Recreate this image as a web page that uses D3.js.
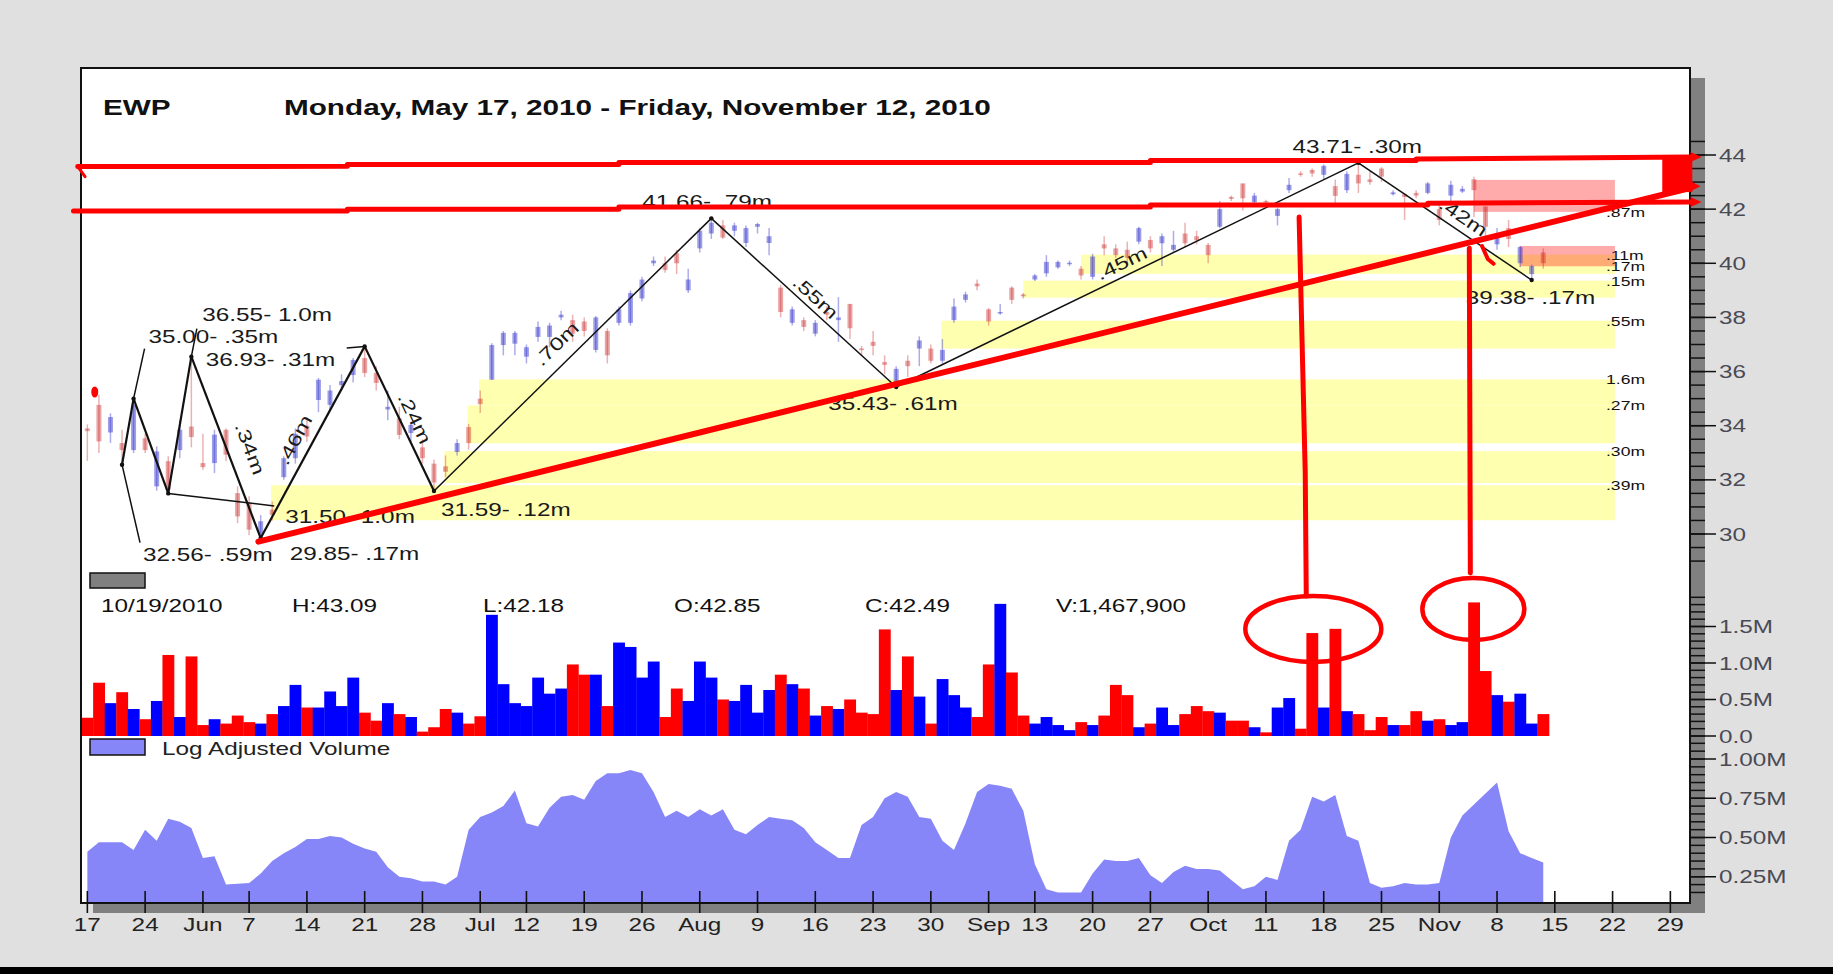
<!DOCTYPE html>
<html><head><meta charset="utf-8">
<script src="https://cdn.jsdelivr.net/npm/d3@7"></script>
<style>html,body{margin:0;padding:0;background:#e0e0e0;}svg{display:block;}</style>
</head><body><svg id="c" width="1833" height="974"></svg>
<script>
// ---------------- DATA ----------------
const symbol = "EWP";
const titleText = "Monday, May 17, 2010 - Friday, November 12, 2010";
const firstDay = "2010-05-17", lastAxisDay = "2010-11-29";
const holidays = ["2010-05-31","2010-07-05","2010-09-06"];
const tickDates = ["2010-05-17","2010-05-24","2010-06-01","2010-06-07","2010-06-14","2010-06-21","2010-06-28","2010-07-06","2010-07-12","2010-07-19","2010-07-26","2010-08-02","2010-08-09","2010-08-16","2010-08-23","2010-08-30","2010-09-07","2010-09-13","2010-09-20","2010-09-27","2010-10-04","2010-10-11","2010-10-18","2010-10-25","2010-11-01","2010-11-08","2010-11-15","2010-11-22","2010-11-29"];
const tickLabels = ["17","24","Jun","7","14","21","28","Jul","12","19","26","Aug","9","16","23","30","Sep","13","20","27","Oct","11","18","25","Nov","8","15","22","29"];

const open = [33.9,34.77,33.75,33.36,33.1,33.54,31.76,32.69,33.1,33.97,
32.62,32.62,33.85,31.51,31.14,29.98,30.9,32.1,32.8,34.0,
34.95,34.77,35.5,35.87,36.5,35.95,34.6,34.28,33.73,33.2,
32.6,32.5,33.03,33.95,35.0,35.7,36.98,37.03,36.55,37.28,
37.28,38.0,37.9,37.85,36.8,37.5,37.8,37.8,38.7,40.0,
40.0,40.37,39.0,40.55,41.1,41.4,41.2,40.75,41.35,40.75,
39.1,37.8,37.9,37.4,38.2,37.9,38.5,36.85,37.1,36.35,
35.6,36.4,36.85,36.85,36.4,37.9,38.65,39.25,38.3,38.15,
39.1,38.85,39.4,39.63,39.85,39.98,39.8,39.5,40.7,40.55,
40.5,40.8,40.86,40.74,40.5,41.1,41.0,40.68,41.35,42.45,
42.95,42.26,42.3,41.75,42.7,43.32,43.45,43.27,42.85,42.7,
43.27,43.1,43.5,42.55,42.55,42.6,42.6,42.0,42.5,42.65,
43.1,42.1,40.7,41.3,40.0,39.6,40.4];
const high = [34.05,35.14,34.46,33.85,35.0,33.7,33.24,32.87,34.2,36.55,
33.7,33.85,33.9,31.76,31.39,30.7,31.2,32.87,33.9,34.3,
35.76,35.5,35.9,36.5,36.93,36.2,35.3,34.7,34.1,33.5,
32.75,32.9,33.5,34.07,35.3,37.05,37.5,37.5,37.0,37.85,
37.8,38.25,38.1,38.0,38.05,37.6,38.4,39.0,39.5,40.25,
40.25,40.5,39.8,41.3,41.66,41.6,41.5,41.4,41.5,41.3,
39.2,38.4,38.0,37.9,38.4,38.75,38.5,36.95,37.5,36.6,
36.2,36.6,37.3,37.0,37.2,38.7,38.95,39.4,38.35,38.5,
39.15,38.9,39.6,40.3,40.1,40.1,39.9,40.35,41.0,40.7,
40.8,41.35,41.0,41.1,41.2,41.5,41.2,40.75,42.3,42.5,
42.95,42.6,42.35,42.05,43.15,43.4,43.5,43.65,43.09,43.4,
43.71,43.4,43.55,42.7,42.6,42.7,43.0,42.3,43.05,42.85,
43.2,42.1,41.3,41.6,40.65,39.95,40.55];
const low = [32.7,32.99,33.36,32.56,32.99,32.99,31.6,31.5,32.8,33.2,
32.37,32.25,32.7,30.4,29.95,29.85,30.5,32.0,32.6,33.4,
34.5,34.6,35.3,35.6,35.8,35.3,34.2,33.5,33.4,32.6,
31.59,32.1,32.9,33.12,34.47,35.69,36.6,36.6,36.3,37.1,
36.9,37.9,37.1,37.3,36.7,36.3,37.7,37.7,38.6,39.9,
39.65,39.6,38.9,40.4,40.9,40.9,41.0,40.6,41.1,40.3,
38.0,37.7,37.5,37.3,37.9,37.1,37.2,36.6,36.6,35.9,
35.43,35.8,36.2,36.3,36.3,37.8,38.55,39.0,37.7,38.1,
38.5,38.7,39.35,39.5,39.8,39.9,39.4,39.4,40.3,40.2,
40.0,40.7,40.4,39.9,40.4,40.6,40.7,40.0,41.3,42.3,
41.95,42.2,42.2,41.4,42.6,43.2,43.2,43.1,42.18,42.6,
42.6,42.9,43.0,42.5,41.6,42.4,42.55,41.4,42.3,42.6,
41.7,40.9,40.5,40.6,39.85,39.38,39.8];
const close = [33.8,33.42,34.32,33.1,34.77,33.1,33.05,31.64,33.85,33.58,
32.47,33.67,32.93,30.65,30.16,30.47,30.7,32.8,33.7,33.6,
35.7,35.3,35.65,36.43,35.95,35.58,34.7,33.66,34.03,32.8,
31.9,32.3,33.36,33.36,34.8,36.98,37.43,37.43,36.9,37.65,
37.7,38.1,37.4,37.5,38.0,36.6,38.3,38.9,39.4,40.1,
39.75,40.0,39.4,41.2,41.5,40.95,41.4,41.3,41.45,41.0,
38.2,38.3,37.65,37.8,38.1,38.0,37.6,36.8,36.95,36.25,
36.1,36.2,37.15,36.4,36.8,38.4,38.85,39.15,37.85,38.2,
38.65,38.78,39.55,40.05,40.05,40.02,39.55,40.25,40.55,40.3,
40.2,41.3,40.55,41.0,40.68,40.74,40.85,40.3,42.0,42.38,
42.4,42.5,42.25,42.0,42.9,43.28,43.32,43.6,42.49,43.3,
42.95,43.0,43.2,42.62,42.45,42.5,42.95,41.6,42.9,42.75,
42.7,41.35,41.1,40.9,40.6,39.9,40.0];
// daily volume, millions of shares
const volume = [0.25,0.73,0.45,0.60,0.37,0.23,0.48,1.11,0.26,1.09,
0.15,0.23,0.17,0.28,0.19,0.17,0.30,0.41,0.70,0.39,
0.39,0.61,0.41,0.80,0.32,0.21,0.45,0.30,0.26,0.06,
0.12,0.37,0.32,0.17,0.27,1.66,0.71,0.45,0.41,0.80,
0.58,0.65,0.98,0.84,0.84,0.41,1.28,1.22,0.80,1.02,
0.26,0.65,0.48,1.02,0.80,0.50,0.48,0.70,0.32,0.63,
0.84,0.71,0.65,0.28,0.41,0.37,0.50,0.32,0.30,1.46,
0.63,1.09,0.54,0.17,0.78,0.56,0.39,0.26,0.98,1.81,
0.87,0.28,0.17,0.26,0.15,0.08,0.19,0.15,0.28,0.70,
0.56,0.12,0.17,0.39,0.15,0.30,0.41,0.34,0.32,0.21,
0.21,0.12,0.05,0.39,0.52,0.10,1.41,0.39,1.4679,0.34,
0.30,0.08,0.26,0.15,0.15,0.34,0.21,0.23,0.15,0.19,
1.83,0.89,0.56,0.47,0.58,0.17,0.30];
// log adjusted volume, millions
const logVolume = [0.41,0.47,0.47,0.47,0.42,0.55,0.48,0.62,0.60,0.56,
0.37,0.38,0.20,0.205,0.21,0.27,0.35,0.40,0.44,0.49,
0.49,0.51,0.50,0.46,0.43,0.41,0.31,0.25,0.24,0.22,
0.22,0.20,0.25,0.55,0.63,0.66,0.70,0.80,0.59,0.57,
0.69,0.76,0.77,0.74,0.86,0.91,0.91,0.93,0.91,0.79,
0.63,0.67,0.63,0.68,0.64,0.68,0.55,0.52,0.58,0.63,
0.62,0.61,0.56,0.47,0.42,0.37,0.37,0.58,0.63,0.75,
0.79,0.76,0.63,0.62,0.48,0.42,0.59,0.79,0.84,0.83,
0.81,0.67,0.33,0.17,0.15,0.15,0.15,0.27,0.36,0.35,
0.35,0.37,0.26,0.21,0.28,0.32,0.30,0.30,0.29,0.23,
0.17,0.19,0.25,0.23,0.48,0.55,0.76,0.73,0.77,0.51,
0.48,0.21,0.18,0.19,0.21,0.20,0.20,0.21,0.50,0.64,
0.71,0.78,0.85,0.54,0.40,0.37,0.34];
const infoDay = 108;

const priceTicks = [30,32,34,36,38,40,42,44];
const volTicks = [0,0.5,1.0,1.5];
const volTickLabels = ["0.0","0.5M","1.0M","1.5M"];
const logTicks = [0.25,0.5,0.75,1.0];
const logTickLabels = ["0.25M","0.50M","0.75M","1.00M"];

// swing pivots: trading-day index, price, label
const pivotIdx = [3,4,7,9,15,24,30,54,70,110,125];
const pivotPrice = [32.56,35.00,31.50,36.55,29.85,36.93,31.59,41.66,35.43,43.71,39.38];
const pivotText = ["32.56- .59m","35.00- .35m","31.50- 1.0m","36.55- 1.0m","29.85- .17m","36.93- .31m","31.59- .12m","41.66- .79m","35.43- .61m","43.71- .30m","39.38- .17m"];
// swing leg volume labels (leg starts at pivot k)
const legStart = [3,4,5,6,7,8,9];
const legText = [".34m",".46m",".24m",".70m",".55m",".45m",".42m"];

// volume-at-price zones
const bandLo = [30.51,31.88,33.35,34.75,36.85,38.73,39.90,39.61];
const bandHi = [31.80,33.06,34.75,35.71,37.88,39.36,40.32,39.90];
const bandStart = [15.9,30.9,32.9,33.9,73.9,81.0,86.0,86.0];
const bandText = [".39m",".30m",".27m","1.6m",".55m",".15m",".11m",".17m"];
const zoneEnd = 132.2;
const pinkLo = [41.90,39.89], pinkHi = [43.08,40.64], pinkStart = [120.0,124.0];
const pinkText = [".87m",""];

// ---------------- LAYOUT ----------------
const SX = 1.35;
const FONT = "'Liberation Sans', Arial, Helvetica, sans-serif";
const svg = d3.select("#c");

function buildDays(){
  const out=[]; let t = Date.parse(firstDay+"T00:00:00Z"); const end = Date.parse(lastAxisDay+"T00:00:00Z");
  while(t<=end){ const d=new Date(t); const wd=d.getUTCDay(); const iso=d.toISOString().slice(0,10);
    if(wd>0 && wd<6 && !holidays.includes(iso)) out.push(iso); t+=86400000; }
  return out;
}
const days = buildDays();

const x = d3.scaleLinear().domain([-0.55,138.7]).range([81,1690]);
const y = d3.scaleLinear().domain([30,44]).range([534,155]);
const yv = d3.scaleLinear().domain([0,2]).range([736,590]);
const yl = d3.scaleLinear().domain([0,1]).range([916,759]);
const step = x(1)-x(0);

function txt(parent, px, py, s, o={}){
  return parent.append("text")
    .attr("transform",`translate(${px},${py}) scale(${o.sx||SX},1)`)
    .attr("font-family",FONT).attr("font-size",o.size||18)
    .attr("font-weight",o.weight||"normal").attr("fill",o.fill||"#222")
    .attr("text-anchor",o.anchor||"start").text(s);
}

// background + panel
svg.append("rect").attr("width",1833).attr("height",974).attr("fill","#e0e0e0");
svg.append("rect").attr("x",0).attr("y",967).attr("width",1833).attr("height",7).attr("fill","#000");
svg.append("rect").attr("x",93).attr("y",78).attr("width",1705-93).attr("height",913-78).attr("fill","#808080");
svg.append("rect").attr("x",81).attr("y",68).attr("width",1690-81).attr("height",903-68).attr("fill","#fff");

// title
txt(svg, 103, 115, symbol, {size:22, weight:"bold", fill:"#111"});
txt(svg, 284, 115, titleText, {size:22, weight:"bold", fill:"#111"});

// zones
const zg = svg.append("g");
bandLo.forEach((lo,k)=>{
  zg.append("rect").attr("x",x(bandStart[k])).attr("y",y(bandHi[k]))
    .attr("width",x(zoneEnd)-x(bandStart[k])).attr("height",y(lo)-y(bandHi[k]))
    .attr("fill","#ffffb0");
});
pinkLo.forEach((lo,k)=>{
  zg.append("rect").attr("x",x(pinkStart[k])).attr("y",y(pinkHi[k]))
    .attr("width",x(zoneEnd)-x(pinkStart[k])).attr("height",y(lo)-y(pinkHi[k]))
    .attr("fill","#ff0000").attr("fill-opacity",0.33);
});
bandText.forEach((t,k)=> txt(zg, 1606, y(bandHi[k])+5, t, {size:13, fill:"#111"}));
pinkText.forEach((t,k)=>{ if(t) txt(zg, 1606, y(pinkLo[k])+5, t, {size:13, fill:"#111"}); });

// candles
const cg = svg.append("g");
open.forEach((o,i)=>{
  const up = close[i]>=o;
  const col = up ? "rgb(40,40,200)" : "rgb(200,30,30)";
  const op = up ? 0.45 : 0.4;
  cg.append("line").attr("x1",x(i)).attr("x2",x(i)).attr("y1",y(high[i])).attr("y2",y(low[i]))
    .attr("stroke",col).attr("stroke-opacity",op*0.85).attr("stroke-width",1.5);
  const top = y(Math.max(o,close[i])), bot = y(Math.min(o,close[i]));
  cg.append("rect").attr("x",x(i)-2.5).attr("y",top).attr("width",5).attr("height",Math.max(1.5,bot-top))
    .attr("fill",col).attr("fill-opacity",op);
});

// zigzag
const pg = svg.append("g");
const P = pivotIdx.map((d,k)=>[x(d), y(pivotPrice[k])]);
for(let k=0;k<P.length-1;k++){
  pg.append("line").attr("x1",P[k][0]).attr("y1",P[k][1]).attr("x2",P[k+1][0]).attr("y2",P[k+1][1])
    .attr("stroke","#111").attr("stroke-width", k<6 ? 2.2 : 1.5);
}
const leaderDx = [18,11,106,5.5,0,-18,0,0,0,0,0], leaderDy = [78,-50,12.6,-28,0,1.6,0,0,0,0,0];
P.forEach((p,k)=>{
  if(leaderDx[k]||leaderDy[k]) pg.append("line").attr("x1",p[0]).attr("y1",p[1]).attr("x2",p[0]+leaderDx[k]).attr("y2",p[1]+leaderDy[k]).attr("stroke","#111").attr("stroke-width",1.5);
  pg.append("circle").attr("cx",p[0]).attr("cy",p[1]).attr("r",2.2).attr("fill","#111");
});
const labDx = [21,15,117,11,29,-159,7,-69,-68,-66,-66], labDy = [96,-56,30,-36,22,20,25,-10,23,-10,24];
P.forEach((p,k)=> txt(pg, p[0]+labDx[k], p[1]+labDy[k], pivotText[k], {size:18, fill:"#1a1a1a"}));
const legT = [0.55,0.47,0.54,0.49,0.52,0.50,0.56], legOff = [22,17,14,19,12,13,14];
legStart.forEach((k,j)=>{
  const a=P[k], b=P[k+1]; const t=legT[j];
  const px=a[0]+(b[0]-a[0])*t, py=a[1]+(b[1]-a[1])*t;
  const ang=Math.atan2(b[1]-a[1], b[0]-a[0])*180/Math.PI;
  pg.append("text").attr("transform",`translate(${px},${py}) rotate(${ang}) translate(0,${-legOff[j]}) scale(${SX},1)`)
    .attr("font-family",FONT).attr("font-size",18).attr("fill","#1a1a1a").attr("text-anchor","middle")
    .attr("dy","0.35em").text(legText[j]);
});

// legend box of price panel
svg.append("rect").attr("x",90).attr("y",573).attr("width",55).attr("height",15).attr("fill","#808080").attr("stroke","#111").attr("stroke-width",1.5);

// info row
const fmt2 = d3.format(".2f");
const dd = days[infoDay].split("-");
const infoItems = [`${dd[1]}/${dd[2]}/${dd[0]}`, "H:"+fmt2(high[infoDay]), "L:"+fmt2(low[infoDay]), "O:"+fmt2(open[infoDay]), "C:"+fmt2(close[infoDay]), "V:"+d3.format(",")(Math.round(volume[infoDay]*1e6))];
infoItems.forEach((s,k)=> txt(svg, 101+k*191, 612, s, {size:18, fill:"#111"}));

// volume bars
const vg = svg.append("g");
volume.forEach((v,i)=>{
  const up = close[i]>=open[i];
  vg.append("rect").attr("x",x(i)-step/2).attr("y",yv(v)).attr("width",step+0.3).attr("height",yv(0)-yv(v))
    .attr("fill", up ? "#0000ff" : "#ff0000");
});

// log adjusted volume area
const area = d3.area().x((d,i)=>x(i)).y0(903).y1(d=>yl(d));
svg.append("path").datum(logVolume).attr("d",area).attr("fill","#8686f8");
svg.append("rect").attr("x",90).attr("y",739).attr("width",55).attr("height",16).attr("fill","#8686f8").attr("stroke","#111").attr("stroke-width",1.5);
txt(svg, 162, 755, "Log Adjusted Volume", {size:18, fill:"#222"});

// panel border
svg.append("rect").attr("x",81).attr("y",68).attr("width",1690-81).attr("height",903-68).attr("fill","none").attr("stroke","#111").attr("stroke-width",2);

// x axis ticks + labels
tickDates.forEach((dt,k)=>{
  const idx = days.indexOf(dt); const px = x(idx);
  svg.append("line").attr("x1",px).attr("x2",px).attr("y1",891).attr("y2",913).attr("stroke","#111").attr("stroke-width",1.6);
  txt(svg, px, 931, tickLabels[k], {size:18, anchor:"middle", fill:"#222"});
});

// right axes
const ag = svg.append("g");
function minorTicks(scale, lo, hi, st){
  for(let v=lo; v<=hi+1e-9; v+=st){ const py=scale(v);
    ag.append("line").attr("x1",1691).attr("x2",1705).attr("y1",py).attr("y2",py).attr("stroke","#111").attr("stroke-width",1.5); }
}
minorTicks(y, 29, 44.5, 0.5);
minorTicks(yv, 0, 1.9, 0.1);
minorTicks(yl, 0.15, 1.1, 0.05);
function majorTicks(scale, vals, labels){
  vals.forEach((v,k)=>{ const py=scale(v);
    ag.append("line").attr("x1",1691).attr("x2",1716).attr("y1",py).attr("y2",py).attr("stroke","#111").attr("stroke-width",1.5);
    txt(ag, 1719, py+6.5, labels[k], {size:18, fill:"#4a4a55"}); });
}
majorTicks(y, priceTicks, priceTicks.map(String));
majorTicks(yv, volTicks, volTickLabels);
majorTicks(yl, logTicks, logTickLabels);

// ---------------- RED HAND-DRAWN ANNOTATIONS ----------------
const red = "#ff0000";
const rg = svg.append("g");
const rl = d3.line().x(d=>x(d[0])).y(d=>y(d[1]));
const redPaths = [
  {pts:[[-0.83,43.575],[22.5,43.58],[22.5,43.65],[46,43.65],[46,43.72],[92,43.72],[92,43.80],[115,43.80],[115,43.85],[138.8,43.93]], w:5},
  {pts:[[-1.2,41.93],[22.5,41.93],[22.5,42.0],[46,42.0],[46,42.08],[92,42.08],[92,42.15],[116,42.15],[116,42.22],[138.9,42.26]], w:5},
  {pts:[[14.8,29.72],[138.7,42.78]], w:6},
  {pts:[[104.87,41.71],[105.13,37.05],[105.4,32.29],[105.49,27.71]], w:5},
  {pts:[[119.6,40.56],[119.69,28.56]], w:5},
  {pts:[[120.7,40.64],[121.2,40.16],[121.7,39.98]], w:4},
  {pts:[[-0.83,43.575],[-0.2,43.2]], w:3}
];
redPaths.forEach(r=> rg.append("path").attr("d",rl(r.pts)).attr("fill","none").attr("stroke",red)
  .attr("stroke-width",r.w).attr("stroke-linejoin","round").attr("stroke-linecap","round"));
// right block where lines converge
rg.append("rect").attr("x",x(136.3)).attr("y",y(43.93)).attr("width",x(138.9)-x(136.3)).attr("height",y(42.63)-y(43.93)).attr("fill",red);
[[43.93,1.0],[42.85,0.9],[42.26,1.0]].forEach(a=>{
  const py=y(a[0]), px=x(138.75);
  rg.append("path").attr("d",`M${px},${py-5}L${px+11*a[1]},${py}L${px},${py+5}Z`).attr("fill",red);
});
// dot at left
rg.append("ellipse").attr("cx",x(0.64)).attr("cy",y(35.245)).attr("rx",3.5).attr("ry",5.5).attr("fill",red);
// circles around volume spikes
const ellC = [[106.1,1.466,68,33],[119.95,1.74,51,31]];
ellC.forEach(e=> rg.append("ellipse").attr("cx",x(e[0])).attr("cy",yv(e[1])).attr("rx",e[2]).attr("ry",e[3])
  .attr("fill","none").attr("stroke",red).attr("stroke-width",4.5));
</script></body></html>
